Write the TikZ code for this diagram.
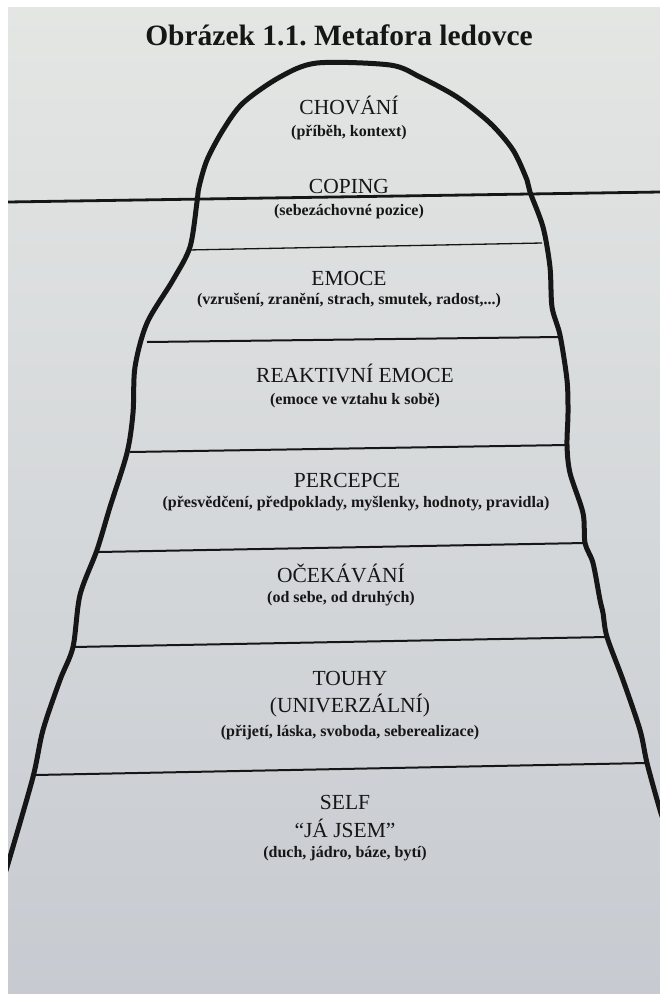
\documentclass[tikz,border=0pt]{standalone}
\usepackage{fontspec}
\setmainfont{Liberation Serif}
\usepackage{xcolor}
\usepackage{tikz}
\usetikzlibrary{positioning}
\frenchspacing

\definecolor{paperTop}{HTML}{E4E6E4}
\definecolor{paperBot}{HTML}{C7CBD1}
\definecolor{ink}{HTML}{161616}

\tikzset{
  head/.style={text=ink, inner sep=0pt, text height=15pt, text depth=0pt,
               font=\fontsize{21.5}{24}\selectfont},
  desc/.style={text=ink, inner sep=0pt, text height=12pt, text depth=3.5pt,
               font=\bfseries\fontsize{16}{18}\selectfont},
  layer/.style={draw=ink, line width=2pt},
  berg/.style={draw=ink, line width=5pt, line join=round, line cap=round}
}

\begin{document}
\begin{tikzpicture}[x=1pt, y=-1pt, on grid, node distance=25pt]
      % page
      \useasboundingbox (0,0) rectangle (660,994);
      \fill[white] (0,0) rectangle (660,994);
      \shade[top color=paperTop, bottom color=paperBot] (8,7) rectangle (660,994);

      \node[text=ink, inner sep=0pt, text height=20pt, text depth=0pt,
            font=\bfseries\fontsize{29.5}{32}\selectfont] (title) at (339,35)
            {Obrázek 1.1. Metafora ledovce};

      % ends of the layer lines on the iceberg
      \coordinate (w_l) at (8,202);    \coordinate (w_r) at (660,192);
      \coordinate (l_1w) at (188,250); \coordinate (l_1e) at (542,243);
      \coordinate (l_2w) at (147,342); \coordinate (l_2e) at (560,337);
      \coordinate (l_3w) at (130,452); \coordinate (l_3e) at (567,445);
      \coordinate (l_4w) at (98,552);  \coordinate (l_4e) at (585,543);
      \coordinate (l_5w) at (73,647);  \coordinate (l_5e) at (607,637);
      \coordinate (l_6w) at (35,775);  \coordinate (l_6e) at (647,763);

      \begin{scope}
        \clip (8,7) rectangle (660,994);
        \draw[layer, line width=2.8pt] (w_l) -- (w_r);
        \draw[layer, line width=1.3pt] (l_1w) -- (l_1e);
        \draw[layer] (l_2w) -- (l_2e);
        \draw[layer] (l_3w) -- (l_3e);
        \draw[layer] (l_4w) -- (l_4e);
        \draw[layer] (l_5w) -- (l_5e);
        \draw[layer] (l_6w) -- (l_6e);
        \draw[berg] plot[smooth, tension=0.5] coordinates {
          (3,880) (10,857) (33,777) (43,730) (60,680) (73,647) (80,595)
          (97,550) (110,507) (127,453) (133,413) (135,367) (147,323)
          (173,280) (190,247) (197,202) (199,187) (207,160) (223,130)
          (243,103) (280,77) (317,63) (390,65) (420,77) (457,97) (490,123)
          (513,150) (527,180) (530,192) (543,227) (550,267) (552,307)
          (560,335) (567,380) (568,413) (567,445) (570,473) (583,513)
          (585,543) (593,563) (600,600) (603,613) (607,637) (623,680)
          (640,730) (647,763) (660,810) (667,830)};
      \end{scope}

      \node[head] (h_1) at (349,107)    {CHOVÁNÍ};
      \node[desc] (d_1) [below of=h_1]  {(příběh, kontext)};
      \node[head] (h_2) at (349,186)    {COPING};
      \node[desc] (d_2) [below of=h_2]  {(sebezáchovné pozice)};
      \node[head] (h_3) at (349,278)    {EMOCE};
      \node[desc] (d_3) [below of=h_3, node distance=22pt]
                                        {(vzrušení, zranění, strach, smutek, radost,...)};
      \node[head] (h_4) at (355,375)    {REAKTIVNÍ EMOCE};
      \node[desc] (d_4) [below of=h_4]  {(emoce ve vztahu k sobě)};
      \node[head] (h_5) at (347,480)    {PERCEPCE};
      \node[desc] (d_5) [below of=h_5, node distance=23pt, xshift=9pt]
                                        {(přesvědčení, předpoklady, myšlenky, hodnoty, pravidla)};
      \node[head] (h_6) at (341,575)    {OČEKÁVÁNÍ};
      \node[desc] (d_6) [below of=h_6, node distance=23pt] {(od sebe, od druhých)};
      \node[head] (h_7) at (350,678)    {TOUHY};
      \node[head] (u_7) [below of=h_7, node distance=27pt] {(UNIVERZÁLNÍ)};
      \node[desc] (d_7) [below of=u_7, node distance=27pt] {(přijetí, láska, svoboda, seberealizace)};
      \node[head] (h_8) at (345,802)    {SELF};
      \node[head] (u_8) [below of=h_8, node distance=28pt] {“JÁ JSEM”};
      \node[desc] (d_8) [below of=u_8, node distance=23pt] {(duch, jádro, báze, bytí)};
    \end{tikzpicture}
\end{document}
